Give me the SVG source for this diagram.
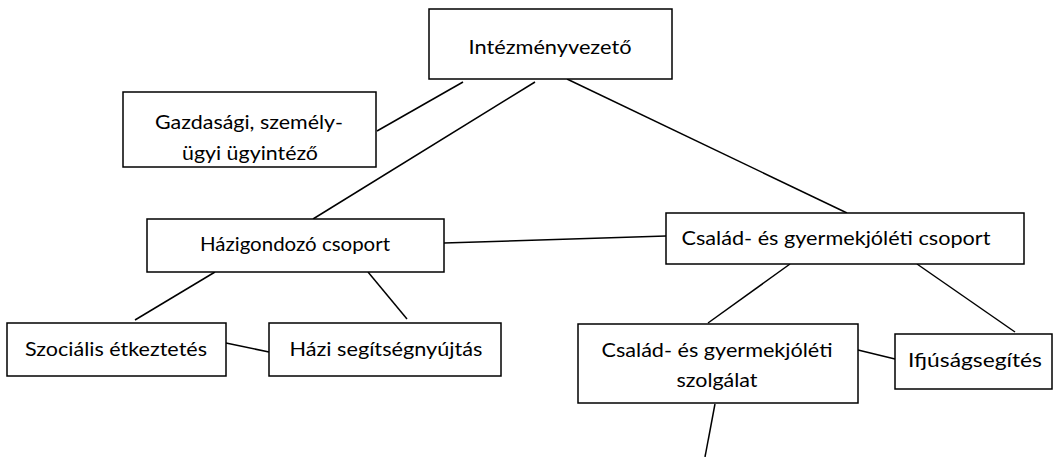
<svg xmlns="http://www.w3.org/2000/svg" width="1053" height="457" viewBox="0 0 1053 457">
<style>
.box{fill:#fff;stroke:#000;stroke-width:1.5}
.lbl{font-family:"Lato","Liberation Sans",sans-serif;font-size:20px;fill:#000;text-anchor:middle}
.con line{stroke:#000;stroke-width:1.5}
</style>
<rect width="1053" height="457" fill="#fff"/>
<g id="connectors" class="con">
<line x1="463" y1="82" x2="377" y2="131"/>
<line x1="535" y1="82" x2="313" y2="219"/>
<line x1="567" y1="79" x2="847" y2="213"/>
<line x1="444" y1="243" x2="666" y2="236"/>
<line x1="215" y1="272" x2="135" y2="320"/>
<line x1="368" y1="272" x2="407" y2="319"/>
<line x1="226" y1="343" x2="269" y2="352"/>
<line x1="790" y1="264" x2="708" y2="323"/>
<line x1="917" y1="264" x2="1015" y2="332"/>
<line x1="858" y1="350" x2="895" y2="359"/>
<line x1="715" y1="404" x2="705" y2="457"/>
</g>
<g id="intezmenyvezeto">
<rect class="box" x="429" y="9" width="243" height="70"/>
<text class="lbl" x="550" y="54" textLength="163" lengthAdjust="spacingAndGlyphs">Intézményvezető</text>
</g>
<g id="gazdasagi">
<rect class="box" x="123" y="92" width="253" height="75"/>
<text class="lbl" x="249" y="129" textLength="188" lengthAdjust="spacingAndGlyphs">Gazdasági, személy-</text>
<text class="lbl" x="250" y="160" textLength="136" lengthAdjust="spacingAndGlyphs">ügyi ügyintéző</text>
</g>
<g id="hazigondozo">
<rect class="box" x="147" y="219" width="297" height="53"/>
<text class="lbl" x="295" y="251" textLength="190" lengthAdjust="spacingAndGlyphs">Házigondozó csoport</text>
</g>
<g id="csalad-csoport">
<rect class="box" x="666" y="213" width="358" height="51"/>
<text class="lbl" x="836" y="245" textLength="309" lengthAdjust="spacingAndGlyphs">Család- és gyermekjóléti csoport</text>
</g>
<g id="szocialis">
<rect class="box" x="7" y="323" width="219" height="53"/>
<text class="lbl" x="116" y="356" textLength="182" lengthAdjust="spacingAndGlyphs">Szociális étkeztetés</text>
</g>
<g id="hazi-segitseg">
<rect class="box" x="269" y="323" width="232" height="53"/>
<text class="lbl" x="386" y="356" textLength="193" lengthAdjust="spacingAndGlyphs">Házi segítségnyújtás</text>
</g>
<g id="csalad-szolgalat">
<rect class="box" x="578" y="324" width="280" height="79"/>
<text class="lbl" x="717" y="357" textLength="231" lengthAdjust="spacingAndGlyphs">Család- és gyermekjóléti</text>
<text class="lbl" x="717" y="387" textLength="81" lengthAdjust="spacingAndGlyphs">szolgálat</text>
</g>
<g id="ifjusag">
<rect class="box" x="895" y="334" width="157" height="55"/>
<text class="lbl" x="975" y="367" textLength="134" lengthAdjust="spacingAndGlyphs">Ifjúságsegítés</text>
</g>
</svg>
